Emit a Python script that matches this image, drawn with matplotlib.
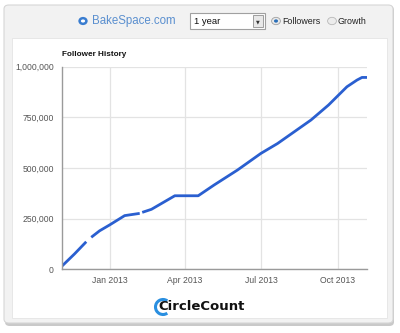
import numpy as np
import pandas as pd
import matplotlib
matplotlib.use("Agg")
import matplotlib.pyplot as plt
import matplotlib.dates as mdates
from matplotlib.patches import FancyBboxPatch, Rectangle, Circle, Arc
from matplotlib.ticker import FuncFormatter

plt.rcParams['font.family'] = ['Liberation Sans', 'DejaVu Sans']

# follower history (NaN = gap in the line)
dates = ["2012-11-05", "2012-11-20", "2012-12-04", "2012-12-07", "2012-12-10",
         "2012-12-20", "2013-01-01", "2013-01-19", "2013-02-06", "2013-02-07",
         "2013-02-09", "2013-02-20", "2013-03-20", "2013-04-17", "2013-05-06",
         "2013-06-03", "2013-07-01", "2013-07-21", "2013-08-10", "2013-08-30",
         "2013-09-20", "2013-09-30", "2013-10-12", "2013-10-24", "2013-10-30",
         "2013-11-05"]
followers = [16000, 76000, 136000, np.nan, 158000,
             190000, 219000, 265000, 276000, np.nan,
             281000, 296000, 363000, 363000, 416000,
             490000, 572000, 621000, 679000, 737000,
             811000, 852000, 901000, 934000, 947000,
             947000]
yticks = [0, 250000, 500000, 750000, 1000000]
xtick_dates = ["2013-01-01", "2013-04-01", "2013-07-01", "2013-10-01"]

df = pd.DataFrame({"date": pd.to_datetime(dates), "followers": followers})

fig = plt.figure(figsize=(4, 3.33), dpi=100)
fig.patch.set_facecolor("white")

# outer grey panel + shadow
fig.patches.append(FancyBboxPatch((5 / 400, 7 / 333), 389 / 400, 320 / 333,
                                  boxstyle="round,pad=0,rounding_size=0.012",
                                  transform=fig.transFigure, facecolor="#c9c9c9",
                                  edgecolor="none", zorder=0))
fig.patches.append(FancyBboxPatch((4 / 400, 10 / 333), 389 / 400, 318 / 333,
                                  boxstyle="round,pad=0,rounding_size=0.012",
                                  transform=fig.transFigure, facecolor="#f2f2f2",
                                  edgecolor="#d6d6d6", lw=0.8, zorder=0))
fig.patches.append(Rectangle((12 / 400, 15 / 333), 375 / 400, 280 / 333,
                             transform=fig.transFigure, facecolor="white",
                             edgecolor="#e4e4e4", lw=0.6, zorder=0))

# header
fig.patches.append(Circle((83 / 400, 1 - 21 / 333), 0.0085, transform=fig.transFigure,
                          facecolor="white", edgecolor="#3a7dd0", lw=1.8, zorder=2))
fig.text(92 / 400, 1 - 21 / 333, "BakeSpace.com", color="#5a8fcf", fontsize=8.3,
         va="center", ha="left")
fig.patches.append(Rectangle((190 / 400, 1 - 29 / 333), 75 / 400, 16 / 333,
                             transform=fig.transFigure, facecolor="white",
                             edgecolor="#a0a0a0", lw=0.8, zorder=2))
fig.patches.append(Rectangle((253 / 400, 1 - 27 / 333), 10 / 400, 12 / 333,
                             transform=fig.transFigure, facecolor="#e8e8e8",
                             edgecolor="#909090", lw=0.6, zorder=3))
fig.text(258 / 400, 1 - 21.5 / 333, "\u25bc", fontsize=3.5, color="#333333",
         ha="center", va="center", family="DejaVu Sans", zorder=4)
fig.text(194 / 400, 1 - 21 / 333, "1 year", fontsize=6.8, color="#111111",
         va="center", ha="left", zorder=4)
fig.patches.append(Circle((276 / 400, 1 - 21 / 333), 0.011, transform=fig.transFigure,
                          facecolor="#e8e8e8", edgecolor="#a0a0a0", lw=0.6, zorder=2))
fig.patches.append(Circle((276 / 400, 1 - 21 / 333), 0.005, transform=fig.transFigure,
                          facecolor="#2a6fb8", edgecolor="none", zorder=3))
fig.text(282 / 400, 1 - 21 / 333, "Followers", fontsize=6.4, color="#222222",
         va="center", ha="left")
fig.patches.append(Circle((332 / 400, 1 - 21 / 333), 0.011, transform=fig.transFigure,
                          facecolor="#ececec", edgecolor="#b8b8b8", lw=0.6, zorder=2))
fig.text(338 / 400, 1 - 21 / 333, "Growth", fontsize=6.4, color="#222222",
         va="center", ha="left")

# footer logo
fig.patches.append(Arc((163 / 400, 1 - 307 / 333), 15 / 400, 15 / 333, theta1=60,
                       theta2=300, transform=fig.transFigure, color="#2a8fe0", lw=2.2,
                       zorder=2))
fig.text(158 / 400, 1 - 307 / 333, "CircleCount", fontsize=9.5, fontweight="bold",
         color="#111111", va="center", ha="left", family=["DejaVu Sans"], zorder=3)

# chart
ax = fig.add_axes([62 / 400, 63.7 / 333, 305 / 400, 202.6 / 333], zorder=5)
ax.set_facecolor("white")
ax.plot(df["date"], df["followers"], color="#2a5fd0", lw=2.0, solid_capstyle="butt")

ax.set_xlim(pd.Timestamp("2012-11-05"), pd.Timestamp("2013-11-05"))
ax.set_ylim(0, 1000000)
ax.set_yticks(yticks)
ax.yaxis.set_major_formatter(FuncFormatter(lambda v, p: f"{int(v):,}"))
ax.set_xticks(pd.to_datetime(xtick_dates))
ax.xaxis.set_major_formatter(mdates.DateFormatter("%b %Y"))
ax.grid(True, color="#e3e3e3", lw=0.9)
ax.set_axisbelow(True)
for s in ["top", "right"]:
    ax.spines[s].set_visible(False)
ax.spines["left"].set_color("#9a9a9a")
ax.spines["bottom"].set_color("#9a9a9a")
ax.spines["left"].set_linewidth(1.0)
ax.spines["bottom"].set_linewidth(1.0)
ax.tick_params(length=0, labelsize=6.2, colors="#555555", pad=6)
ax.tick_params(axis="x", pad=5)

fig.text(62 / 400, 1 - 55 / 333, "Follower History", fontsize=5.9, fontweight="bold",
         color="#111111", va="center", ha="left", zorder=6)

fig.savefig("out.png", dpi=100)
